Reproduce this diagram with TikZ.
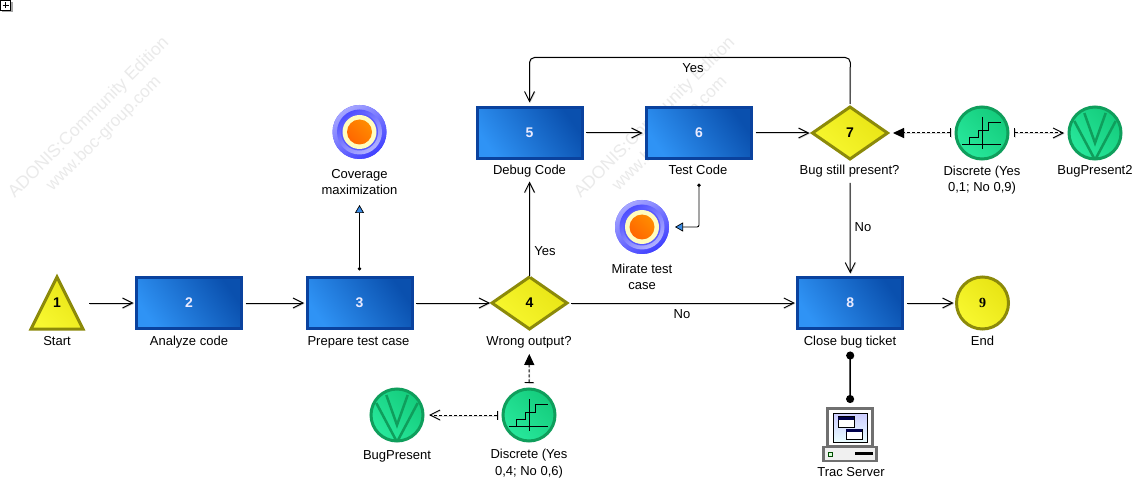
\documentclass[tikz,border=0pt]{standalone}
\usepackage{fontspec}
\setmainfont{Liberation Sans}
\newfontfamily\numserif{Liberation Serif}
\usetikzlibrary{arrows.meta,shapes.geometric}

\definecolor{boxedge}{HTML}{0A429E}
\definecolor{boxlight}{HTML}{2F93F5}
\definecolor{boxdark}{HTML}{0A50AE}
\definecolor{yellowedge}{HTML}{8C8A0A}
\definecolor{yellowlight}{HTML}{F8F830}
\definecolor{yellowdark}{HTML}{E8E414}
\definecolor{greenedge}{HTML}{0F9E5C}
\definecolor{greenlight}{HTML}{28E89C}
\definecolor{greendark}{HTML}{14CC7C}
\definecolor{wmark}{HTML}{EAEAEA}
\definecolor{tipblue}{HTML}{3B8EE8}
\definecolor{pcgray}{HTML}{707070}

\tikzset{
    taskbox/.style = {rectangle, draw = boxedge, line width = 3pt, minimum width = 105pt, minimum height = 51pt,
        inner sep = 0pt, outer sep = 0pt, shading = axis, left color = boxlight, right color = boxdark, shading angle = 125,
        text = blue!8!white, font = \fontsize{14}{16}\selectfont\bfseries},
    gate/.style = {diamond, draw = yellowedge, line width = 3pt, minimum width = 75pt, minimum height = 52pt, aspect = 1.4,
        inner sep = 0pt, outer sep = 0pt, shading = axis, left color = yellowlight, right color = yellowdark, shading angle = 135,
        font = \fontsize{14}{16}\selectfont\bfseries},
    endpoint/.style = {circle, draw = yellowedge, line width = 3pt, minimum size = 52pt, inner sep = 0pt, outer sep = 0pt,
        shading = axis, left color = yellowlight, right color = yellowdark, shading angle = 135,
        font = \fontsize{14}{16}\selectfont\bfseries\numserif},
    greendot/.style = {circle, draw = greenedge, line width = 3pt, minimum size = 52pt, inner sep = 0pt, outer sep = 0pt,
        shading = axis, left color = greenlight, right color = greendark, shading angle = 135},
    targetdot/.style = {circle, minimum size = 54pt, inner sep = 0pt, outer sep = 0pt, fill = blue!70!white},
    caption/.style = {align = center, anchor = base, inner sep = 0pt, font = \fontsize{13}{16.5}\selectfont},
    wmtext/.style = {color = wmark, inner sep = 0pt, rotate = 45, font = \fontsize{17.5}{20}\selectfont},
    shadowed/.style = {preaction = {draw = black!15, transform canvas = {shift = {(0.7pt,-0.7pt)}}}},
    flow/.style = {shadowed, line width = 1pt, -{Straight Barb[length = 10pt, width = 10pt, line width = 0.9pt]}},
    infoflow/.style = {line width = 0.9pt, {Circle[length = 3.5pt]}-{Triangle[length = 8pt, width = 9pt, fill = tipblue, line width = 0.7pt]}},
    dashopen/.style = {shadowed, line width = 1pt, dash pattern = on 3pt off 2pt, {Bar[width = 9pt, line width = 0.9pt]}-{Straight Barb[length = 10pt, width = 10pt, line width = 0.9pt]}},
    dashfull/.style = {shadowed, line width = 1pt, dash pattern = on 3pt off 2pt, {Bar[width = 9pt, line width = 0.9pt]}-{Triangle[length = 11pt, width = 10pt]}},
    dotlink/.style = {shadowed, line width = 1.4pt, {Circle[length = 8pt]}-{Circle[length = 8pt]}},
}

\begin{document}
\begin{tikzpicture}[x = 1pt, y = -1pt]
    \useasboundingbox (0,0) rectangle (1133,481);
    \fill[white] (0,0) rectangle (1133,481);

    % watermarks
    \foreach \i/\dx in {a/89, b/655} {
        \node[wmtext] (wm\i) at (\dx, 118) {ADONIS:Community Edition};
        \node[wmtext, font = \fontsize{17}{20}\selectfont] (www\i) at (\dx + 15, 134) {www.boc-group.com};
    }

    % expand box
    \fill[gray!70] (2,2) rectangle (12.5,12.5);
    \node[draw = black, fill = white, line width = 1pt, minimum size = 10pt, inner sep = 0pt, outer sep = 0pt] (expand) at (5.5,5.5) {};
    \draw[line width = 1pt, shorten <= 2pt, shorten >= 2pt] (expand.west) -- (expand.east);
    \draw[line width = 1pt, shorten <= 2pt, shorten >= 2pt] (expand.north) -- (expand.south);

    % start triangle
    \node[minimum size = 56pt, inner sep = 0pt, outer sep = 0pt] (n1) at (57,303) {};
    \draw[draw = yellowedge, line width = 3pt, line join = miter, left color = yellowlight, right color = yellowdark, shading angle = 135]
        (57,277) -- (83,329) -- (31,329) -- cycle;
    \node[font = \fontsize{14}{16}\selectfont\bfseries, inner sep = 0pt] (num1) at (n1) {1};

    % tasks
    \node[taskbox] (n2) at (189,303) {2};
    \node[taskbox] (n3) at (359.5,303) {3};
    \node[gate] (n4) at (529.5,303) {4};
    \node[taskbox] (n5) at (529.5,133) {5};
    \node[taskbox] (n6) at (699,133) {6};
    \node[gate] (n7) at (850,133) {7};
    \node[taskbox] (n8) at (850.3,303) {8};
    \node[endpoint] (n9) at (982.5,303) {9};

    % targets
    \node[targetdot] (cov) at (359.5,132) {};
    \node[targetdot] (mir) at (642,227) {};
    \foreach \tg in {cov, mir} {
        \shade[left color = blue!35!white, right color = blue!75!white, shading angle = 35] (\tg) circle [radius = 27pt];
        \shade[left color = blue!70!white, right color = blue!30!white, shading angle = 35] (\tg) circle [radius = 22.5pt];
        \fill[blue!65!white] (\tg) circle [radius = 18.5pt];
        \fill[yellow!25!white] (\tg) circle [radius = 17pt];
        \shade[left color = orange!90!yellow, right color = red!20!orange, shading angle = -45] (\tg) circle [radius = 12.5pt];
    }

    % discrete variables
    \node[greendot] (d1) at (529,415) {};
    \node[greendot] (d2) at (982,133) {};
    \foreach \dv in {d1, d2} {
        \draw[line width = 0.9pt] ([shift = {(-20,11)}]\dv.center) -- ([shift = {(19,11)}]\dv.center)
            ([shift = {(0,-16)}]\dv.center) -- ([shift = {(0,16)}]\dv.center);
        \draw[line width = 0.9pt] ([shift = {(-12.3,11)}]\dv.center) -- ([shift = {(-12.3,4.3)}]\dv.center) -- ([shift = {(-4,4.3)}]\dv.center)
            -- ([shift = {(-4,-3)}]\dv.center) -- ([shift = {(6.7,-3)}]\dv.center) -- ([shift = {(6.7,-10.7)}]\dv.center) -- ([shift = {(19.3,-10.7)}]\dv.center);
    }

    % result variables
    \node[greendot] (v1) at (397,415) {};
    \node[greendot] (v2) at (1095,133) {};
    \foreach \rv in {v1, v2} {
        \begin{scope}
            \clip (\rv) circle [radius = 25pt];
            \draw[draw = greenedge, line width = 2.5pt] ([shift = {(-20.7,-12)}]\rv.center) -- ([shift = {(0,27)}]\rv.center) -- ([shift = {(20.7,-12)}]\rv.center);
            \draw[draw = greenedge, line width = 2.5pt] ([shift = {(-10.7,-20)}]\rv.center) -- ([shift = {(0,10)}]\rv.center) -- ([shift = {(10.7,-20)}]\rv.center);
        \end{scope}
    }

    % server
    \node[minimum width = 56pt, minimum height = 55pt, inner sep = 0pt, outer sep = 0pt] (srv) at (850,434.5) {};
    \draw[draw = pcgray, line width = 3pt, fill = white] (827.5,408.5) rectangle (872.5,446);
    \draw[line width = 1pt, left color = blue!20!white, right color = cyan!8!white, shading angle = 0] (833.3,413.3) rectangle (867.7,442.7);
    \draw[line width = 1pt, fill = white] (838.3,416.7) rectangle (854,427.7);
    \fill[blue!30!black] (838.3,416.7) rectangle (854,419.5);
    \draw[line width = 1pt, fill = white] (846,429) rectangle (862,439);
    \fill[blue!30!black] (846,429) rectangle (862,431.5);
    \draw[draw = pcgray, line width = 2.5pt, fill = gray!12] (823.5,447) rectangle (876.5,461);
    \draw[draw = black!70!green, line width = 0.8pt, fill = green!15] (828.3,452.3) rectangle (832.7,456.7);
    \fill[black] (855,451.7) rectangle (873.3,455);

    % captions
    \node[caption] (lab1) at (57,345) {Start};
    \node[caption] (lab2) at (189,345) {Analyze code};
    \node[caption] (lab3) at (358.5,345) {Prepare test case};
    \node[caption] (lab4) at (529,345) {Wrong output?};
    \node[caption] (lab5) at (529.5,175) {Debug Code};
    \node[caption] (lab6) at (698,175) {Test Code};
    \node[caption] (lab7) at (849.5,175) {Bug still present?};
    \node[caption] (lab8) at (850,345) {Close bug ticket};
    \node[caption] (lab9) at (982.5,345) {End};
    \node[caption] (labcov) at (359.5,195) {Coverage\\maximization};
    \node[caption] (labmir) at (642,290) {Mirate test\\case};
    \node[caption] (labd1) at (529,475) {Discrete (Yes\\0,4; No 0,6)};
    \node[caption] (labd2) at (982,192) {Discrete (Yes\\0,1; No 0,9)};
    \node[caption] (labv1) at (397,459) {BugPresent};
    \node[caption] (labv2) at (1095,175) {BugPresent2};
    \node[caption] (labsrv) at (851,476.5) {Trac Server};
    \node[caption] (lyes7) at (693,73) {Yes};
    \node[caption] (lno4) at (682,319) {No};
    \node[caption] (lyes4) at (545,256) {Yes};
    \node[caption] (lno7) at (863,232) {No};

    % sequence flow
    \draw[flow, shorten <= 4pt, shorten >= 3pt] (n1) -- (n2);
    \draw[flow, shorten <= 4pt, shorten >= 3pt] (n2) -- (n3);
    \draw[flow, shorten <= 4pt, shorten >= 2pt] (n3) -- (n4);
    \draw[flow, shorten <= 4pt, shorten >= 3pt] (n4) -- (n8);
    \draw[flow, shorten <= 1pt, shorten >= 23pt] (n4) -- (n5);
    \draw[flow, shorten <= 4pt, shorten >= 4pt] (n5) -- (n6);
    \draw[flow, shorten <= 4pt, shorten >= 3pt] (n6) -- (n7);
    \draw[flow, shorten <= 24pt, shorten >= 4pt] (n7) -- (n8);
    \draw[flow, shorten <= 4pt, shorten >= 3pt] (n8) -- (n9);
    \coordinate (loopr) at (850.3,57.5);
    \coordinate (loopl) at (529.5,57.5);
    \draw[flow, rounded corners = 5pt, shorten <= 3pt, shorten >= 5pt] (n7.north) -- (loopr) -- (loopl) -- (n5.north);

    % information links
    \draw[infoflow, shorten <= 7pt, shorten >= 46pt] (n3) -- (cov);
    \draw[infoflow, rounded corners = 2pt, shorten <= 25pt, shorten >= 6pt] (n6.south) |- (mir.east);
    \draw[dashopen, shorten <= 5pt, shorten >= 6pt] (d1) -- (v1);
    \draw[dashfull, shorten <= 6pt, shorten >= 25pt] (d1) -- (n4);
    \draw[dashfull, shorten <= 5pt, shorten >= 5.5pt] (d2) -- (n7);
    \draw[dashopen, shorten <= 6pt, shorten >= 5pt] (d2) -- (v2);
    \draw[dotlink, shorten <= 23pt, shorten >= 4pt] (n8) -- (srv);
\end{tikzpicture}
\end{document}
